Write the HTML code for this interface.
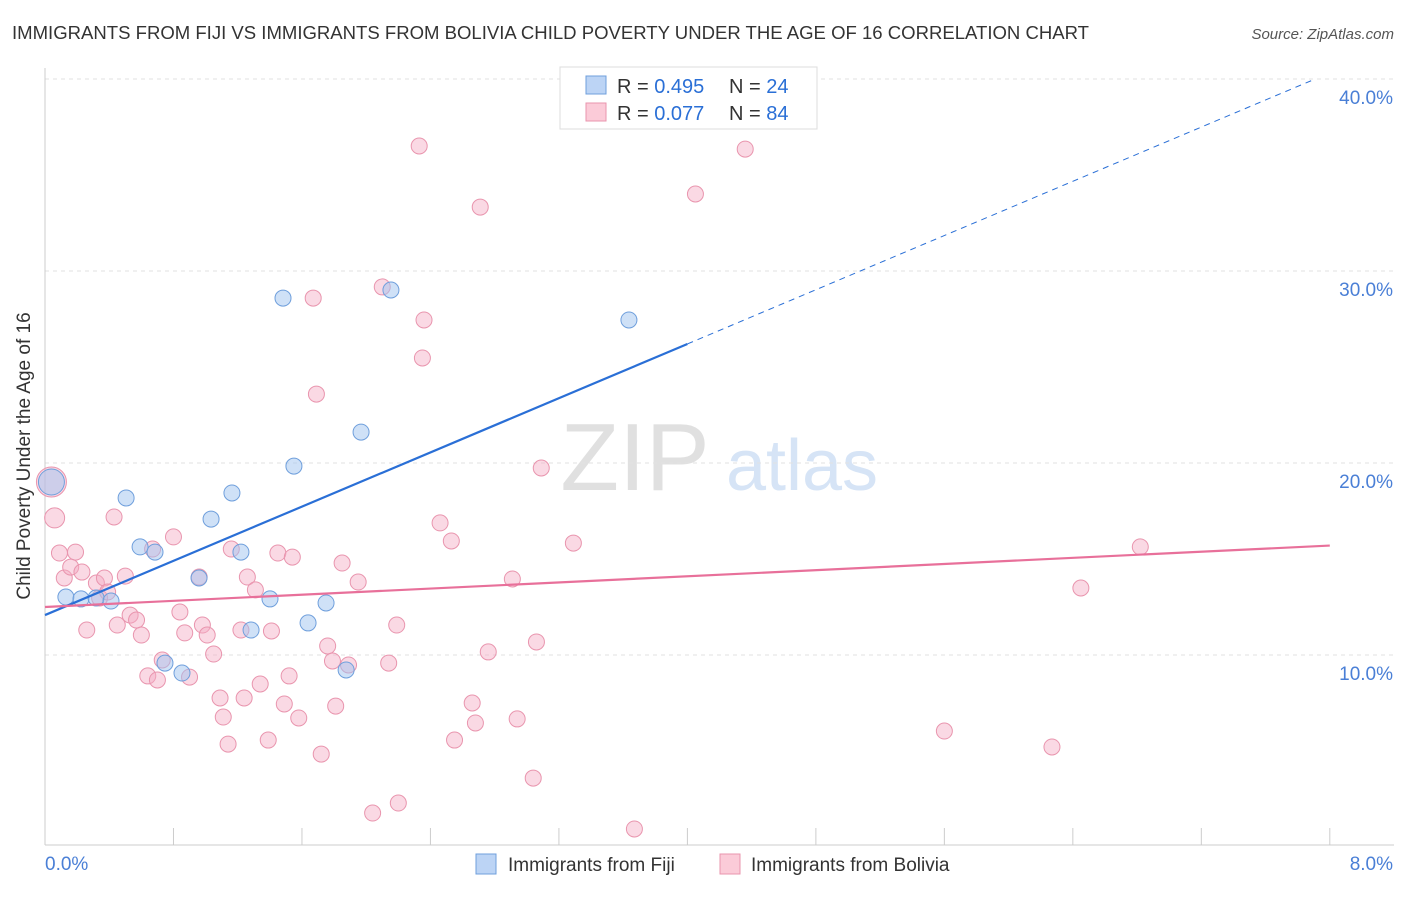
<!DOCTYPE html>
<html><head><meta charset="utf-8">
<style>
body{margin:0;background:#fff;font-family:"Liberation Sans",sans-serif;}
svg text{font-family:"Liberation Sans",sans-serif;}
</style></head>
<body>
<svg id="chart" width="1406" height="892" viewBox="0 0 1406 892" xmlns="http://www.w3.org/2000/svg">
<text x="12" y="39" font-size="18" fill="#333" textLength="1077" lengthAdjust="spacingAndGlyphs">IMMIGRANTS FROM FIJI VS IMMIGRANTS FROM BOLIVIA CHILD POVERTY UNDER THE AGE OF 16 CORRELATION CHART</text>
<text x="1394" y="39" font-size="15" fill="#555" font-style="italic" text-anchor="end">Source: ZipAtlas.com</text>
<g>
<text x="635" y="490" font-size="96" fill="#e0e0e0" font-family="Liberation Serif" text-anchor="middle">ZIP</text>
<text x="802" y="490" font-size="72" fill="#d6e4f6" text-anchor="middle">atlas</text>
</g>
<g id="grid"></g>
<g id="axes"></g>
<g id="marks"></g>
<g id="lines"></g>
<g>
<rect x="560" y="67" width="257" height="62" fill="#fff" stroke="#ddd"/>
<rect x="586" y="76" width="20" height="18" fill="#bcd4f5" stroke="#6f9fdc"/>
<rect x="586" y="103" width="20" height="18" fill="#fbcbd8" stroke="#e995ae"/>
<text x="617" y="93" font-size="20" fill="#333">R = <tspan fill="#2a6fd6">0.495</tspan></text>
<text x="729" y="93" font-size="20" fill="#333">N = <tspan fill="#2a6fd6">24</tspan></text>
<text x="617" y="120" font-size="20" fill="#333">R = <tspan fill="#2a6fd6">0.077</tspan></text>
<text x="729" y="120" font-size="20" fill="#333">N = <tspan fill="#2a6fd6">84</tspan></text>
</g>
<g>
<rect x="476" y="854" width="20" height="20" fill="#bcd4f5" stroke="#6f9fdc"/>
<text x="508" y="871" font-size="19" fill="#333">Immigrants from Fiji</text>
<rect x="720" y="854" width="20" height="20" fill="#fbcbd8" stroke="#e995ae"/>
<text x="751" y="871" font-size="19" fill="#333">Immigrants from Bolivia</text>
</g>
<text x="30" y="456" font-size="19" fill="#333" text-anchor="middle" transform="rotate(-90 30 456)">Child Poverty Under the Age of 16</text>
</svg>
<script>
const yTicks=[10,20,30,40];
const yTickLabels=["10.0%","20.0%","30.0%","40.0%"];
const xTickLabels=["0.0%","8.0%"];
const fijiX=[0.04,0.13,0.224,0.318,0.411,0.505,0.592,0.685,0.747,0.853,0.959,1.034,1.164,1.22,1.283,1.401,1.482,1.55,1.638,1.75,1.875,1.968,2.154,3.636];
const fijiY=[19.01,13.02,12.92,12.97,12.81,18.18,15.63,15.36,9.58,9.06,14.01,17.08,18.44,15.36,11.30,12.92,28.59,19.84,11.67,12.71,9.22,21.61,29.01,27.45];
const bolX=[0.04,0.06,0.09,0.12,0.16,0.19,0.23,0.26,0.32,0.34,0.37,0.39,0.43,0.45,0.50,0.53,0.57,0.60,0.64,0.67,0.70,0.73,0.80,0.84,0.87,0.90,0.96,0.98,1.01,1.05,1.09,1.11,1.14,1.16,1.22,1.24,1.26,1.31,1.34,1.39,1.41,1.45,1.49,1.52,1.54,1.58,1.67,1.69,1.72,1.76,1.79,1.81,1.85,1.89,1.95,2.04,2.10,2.14,2.19,2.20,2.33,2.35,2.36,2.46,2.53,2.55,2.66,2.68,2.71,2.76,2.91,2.94,3.04,3.06,3.09,3.29,3.67,4.05,4.36,5.60,6.27,6.45,6.82];
const bolY=[19.01,17.14,15.31,14.01,14.58,15.36,14.32,11.30,13.75,12.97,14.01,13.28,17.19,11.56,14.11,12.08,11.82,11.04,8.91,15.52,8.70,9.74,16.15,12.24,11.15,8.85,14.06,11.56,11.04,10.05,7.76,6.77,5.36,15.52,11.30,7.76,14.06,13.39,8.49,5.57,11.25,15.31,7.45,8.91,15.10,6.72,28.59,23.59,4.84,10.47,9.69,7.34,14.79,9.48,13.80,1.77,29.17,9.58,11.56,2.29,36.51,25.47,27.45,16.88,15.94,5.57,7.50,6.46,33.33,10.16,13.96,6.67,3.59,10.68,19.74,15.83,0.94,34.01,36.35,6.04,5.21,13.49,15.63];
const fijiTrend=[12.08,3.53];
const bolTrend=[12.5,0.40];

const NS="http://www.w3.org/2000/svg";
const sx=v=>45+v*160.6, sy=v=>847-v*19.2;
function mk(p,t,a){const e=document.createElementNS(NS,t);for(const k in a)e.setAttribute(k,a[k]);document.getElementById(p).appendChild(e);return e;}
yTicks.forEach((t,i)=>{
 const g=mk('grid','line',{x1:45,x2:1394,y1:sy(t),y2:sy(t),stroke:'#e2e2e2','stroke-dasharray':'4,4'});
 
 
 const l=mk('axes','text',{x:1393,y:sy(t)+25,'font-size':19,fill:'#4a7fd6','text-anchor':'end'});
 l.textContent=yTickLabels[i];
 
 
});
const ax=mk('axes','line',{x1:45,x2:1394,y1:845,y2:845,stroke:'#ccc'});


const ay=mk('axes','line',{x1:45,x2:45,y1:68,y2:845,stroke:'#ccc'});


for(let i=0;i<=10;i++){
 const t=mk('axes','line',{x1:sx(i*0.8),x2:sx(i*0.8),y1:828,y2:845,stroke:'#ccc'});
 
 
}
[[xTickLabels[0],45,'start'],[xTickLabels[1],1393,'end']].forEach(([s,x,a])=>{
 const l=mk('axes','text',{x:x,y:870,'font-size':19,fill:'#4a7fd6','text-anchor':a});
 l.textContent=s;
 
 
});
bolX.forEach((x,i)=>{
 const c=mk('marks','circle',{cx:sx(x),cy:sy(bolY[i]),r:i==0?15:(i==1?10:8),fill:'rgba(245,170,195,0.45)',stroke:'#e995ae','stroke-width':1});
 
 
});
fijiX.forEach((x,i)=>{
 const c=mk('marks','circle',{cx:sx(x),cy:sy(fijiY[i]),r:i==0?13:8,fill:'rgba(160,195,240,0.5)',stroke:'#6f9fdc','stroke-width':1});
 
 
});
const f1=mk('lines','line',{x1:sx(0),y1:sy(fijiTrend[0]),x2:sx(4),y2:sy(fijiTrend[0]+4*fijiTrend[1]),stroke:'#2a6fd6','stroke-width':2.2});


const xe=Math.min(8,(40-fijiTrend[0])/fijiTrend[1]);
const f2=mk('lines','line',{x1:sx(4),y1:sy(fijiTrend[0]+4*fijiTrend[1]),x2:sx(xe),y2:sy(fijiTrend[0]+xe*fijiTrend[1]),stroke:'#2a6fd6','stroke-width':1,'stroke-dasharray':'6,5'});


const b1=mk('lines','line',{x1:sx(0),y1:sy(bolTrend[0]),x2:sx(8),y2:sy(bolTrend[0]+8*bolTrend[1]),stroke:'#e8709a','stroke-width':2.2});


</script>
</body></html>
